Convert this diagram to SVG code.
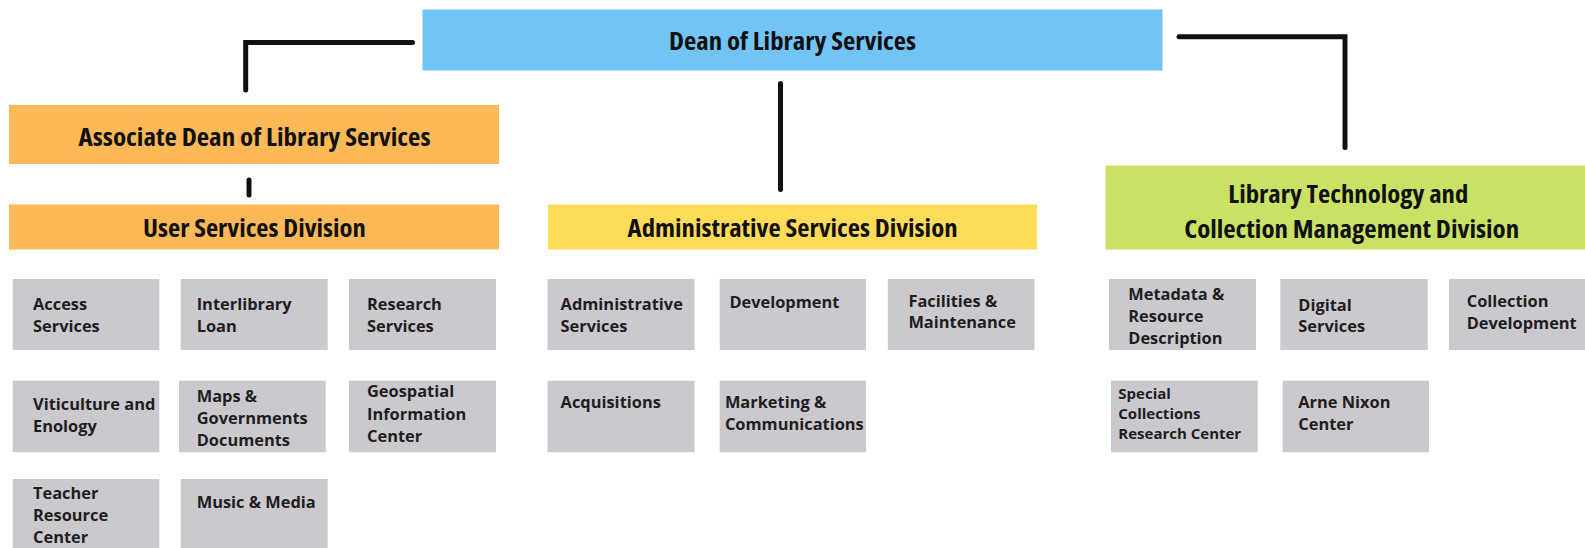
<svg xmlns="http://www.w3.org/2000/svg" width="1585" height="548" viewBox="0 0 1585 548">
<style>
.title{font-family:"Open Sans","Liberation Sans",sans-serif;font-weight:700;font-size:25px;font-stretch:75%;fill:#111;text-anchor:middle}
.sub{font-family:"Open Sans","Liberation Sans",sans-serif;font-weight:700;font-size:16.4px;fill:#1e1e1e}
.small{font-size:15px}
.box{fill:#cbc8ce}
.conn{fill:none;stroke:#111;stroke-width:5;stroke-linecap:round;stroke-linejoin:miter}
</style>
<rect width="1585" height="548" fill="#ffffff"/>
<g id="connectors">
<path class="conn" d="M412.5,42.5 H245.7 V90"/>
<path class="conn" d="M249,180 V195"/>
<path class="conn" d="M780.5,83.5 V189.5"/>
<path class="conn" d="M1179,36.7 H1345 V147.5"/>
</g>
<g id="dean">
<rect x="422.5" y="9.5" width="740" height="61" fill="#73c4f4"/>
<text class="title" x="792.5" y="50" textLength="247" lengthAdjust="spacingAndGlyphs">Dean of Library Services</text>
</g>
<g id="assoc-dean">
<rect x="9" y="105" width="490" height="59" fill="#fdb958"/>
<text class="title" x="254.5" y="145.7" textLength="352" lengthAdjust="spacingAndGlyphs">Associate Dean of Library Services</text>
</g>
<g id="user-services">
<rect x="9" y="204.5" width="490" height="45" fill="#fdb958"/>
<text class="title" x="254.5" y="236.7" textLength="223" lengthAdjust="spacingAndGlyphs">User Services Division</text>
</g>
<g id="admin-services-division">
<rect x="548" y="204.5" width="489" height="45" fill="#fedb58"/>
<text class="title" x="792.6" y="237.3" textLength="330" lengthAdjust="spacingAndGlyphs">Administrative Services Division</text>
</g>
<g id="ltcm">
<rect x="1105.5" y="165.5" width="480" height="84" fill="#c9e265"/>
<text class="title" x="1348.3" y="202.5" textLength="240" lengthAdjust="spacingAndGlyphs">Library Technology and</text>
<text class="title" x="1351.7" y="237.5" textLength="335" lengthAdjust="spacingAndGlyphs">Collection Management Division</text>
</g>
<g id="access-services">
<rect class="box" x="12.7" y="279" width="146.6" height="71"/>
<text class="sub" x="33" y="310">Access</text><text class="sub" x="33" y="332">Services</text>
</g>
<g id="interlibrary-loan">
<rect class="box" x="180.7" y="279" width="147" height="71"/>
<text class="sub" x="196.7" y="310">Interlibrary</text><text class="sub" x="196.7" y="332">Loan</text>
</g>
<g id="research-services">
<rect class="box" x="349" y="279" width="147" height="71"/>
<text class="sub" x="367" y="310">Research</text><text class="sub" x="367" y="332">Services</text>
</g>
<g id="viticulture">
<rect class="box" x="12.7" y="380.7" width="146.6" height="71.5"/>
<text class="sub" x="33" y="410">Viticulture and</text><text class="sub" x="33" y="432">Enology</text>
</g>
<g id="maps">
<rect class="box" x="179" y="380.7" width="146.7" height="71.5"/>
<text class="sub" x="196.7" y="401.7">Maps &amp;</text><text class="sub" x="196.7" y="423.7">Governments</text><text class="sub" x="196.7" y="445.7">Documents</text>
</g>
<g id="geospatial">
<rect class="box" x="349" y="380.7" width="147" height="71.5"/>
<text class="sub" x="367" y="397.3">Geospatial</text><text class="sub" x="367" y="419.7">Information</text><text class="sub" x="367" y="441.7">Center</text>
</g>
<g id="teacher-resource">
<rect class="box" x="12.7" y="479" width="146.6" height="72"/>
<text class="sub" x="33" y="499.3">Teacher</text><text class="sub" x="33" y="521.3">Resource</text><text class="sub" x="33" y="543.3">Center</text>
</g>
<g id="music-media">
<rect class="box" x="180.7" y="479" width="147" height="72"/>
<text class="sub" x="196.7" y="508.3">Music &amp; Media</text>
</g>
<g id="administrative-services">
<rect class="box" x="547.5" y="279" width="147" height="71"/>
<text class="sub" x="560.6" y="310">Administrative</text><text class="sub" x="560.6" y="332">Services</text>
</g>
<g id="development">
<rect class="box" x="719.7" y="279" width="146.3" height="71"/>
<text class="sub" x="729.4" y="308.3">Development</text>
</g>
<g id="facilities">
<rect class="box" x="887.8" y="279" width="146.7" height="71"/>
<text class="sub" x="908.4" y="306.7">Facilities &amp;</text><text class="sub" x="908.4" y="328.3">Maintenance</text>
</g>
<g id="acquisitions">
<rect class="box" x="547.5" y="380.7" width="147" height="71.5"/>
<text class="sub" x="560.6" y="408.3">Acquisitions</text>
</g>
<g id="marketing">
<rect class="box" x="719.7" y="380.7" width="146.3" height="71.5"/>
<text class="sub" x="724.9" y="408.3">Marketing &amp;</text><text class="sub" x="724.9" y="430">Communications</text>
</g>
<g id="metadata">
<rect class="box" x="1109" y="279" width="147" height="71"/>
<text class="sub" x="1128.3" y="300">Metadata &amp;</text><text class="sub" x="1128.3" y="322">Resource</text><text class="sub" x="1128.3" y="344">Description</text>
</g>
<g id="digital-services">
<rect class="box" x="1280.3" y="279" width="147.4" height="71"/>
<text class="sub" x="1298.3" y="310.7">Digital</text><text class="sub" x="1298.3" y="332">Services</text>
</g>
<g id="collection-development">
<rect class="box" x="1449" y="279" width="137" height="71"/>
<text class="sub" x="1466.7" y="307.3">Collection</text><text class="sub" x="1466.7" y="329">Development</text>
</g>
<g id="special-collections">
<rect class="box" x="1111" y="380.7" width="146.7" height="71.5"/>
<text class="sub small" x="1118.3" y="399.3">Special</text><text class="sub small" x="1118.3" y="419.3">Collections</text><text class="sub small" x="1118.3" y="439.3">Research Center</text>
</g>
<g id="arne-nixon">
<rect class="box" x="1282.7" y="380.7" width="146.3" height="71.5"/>
<text class="sub" x="1298.3" y="408.3">Arne Nixon</text><text class="sub" x="1298.3" y="430">Center</text>
</g>
</svg>
